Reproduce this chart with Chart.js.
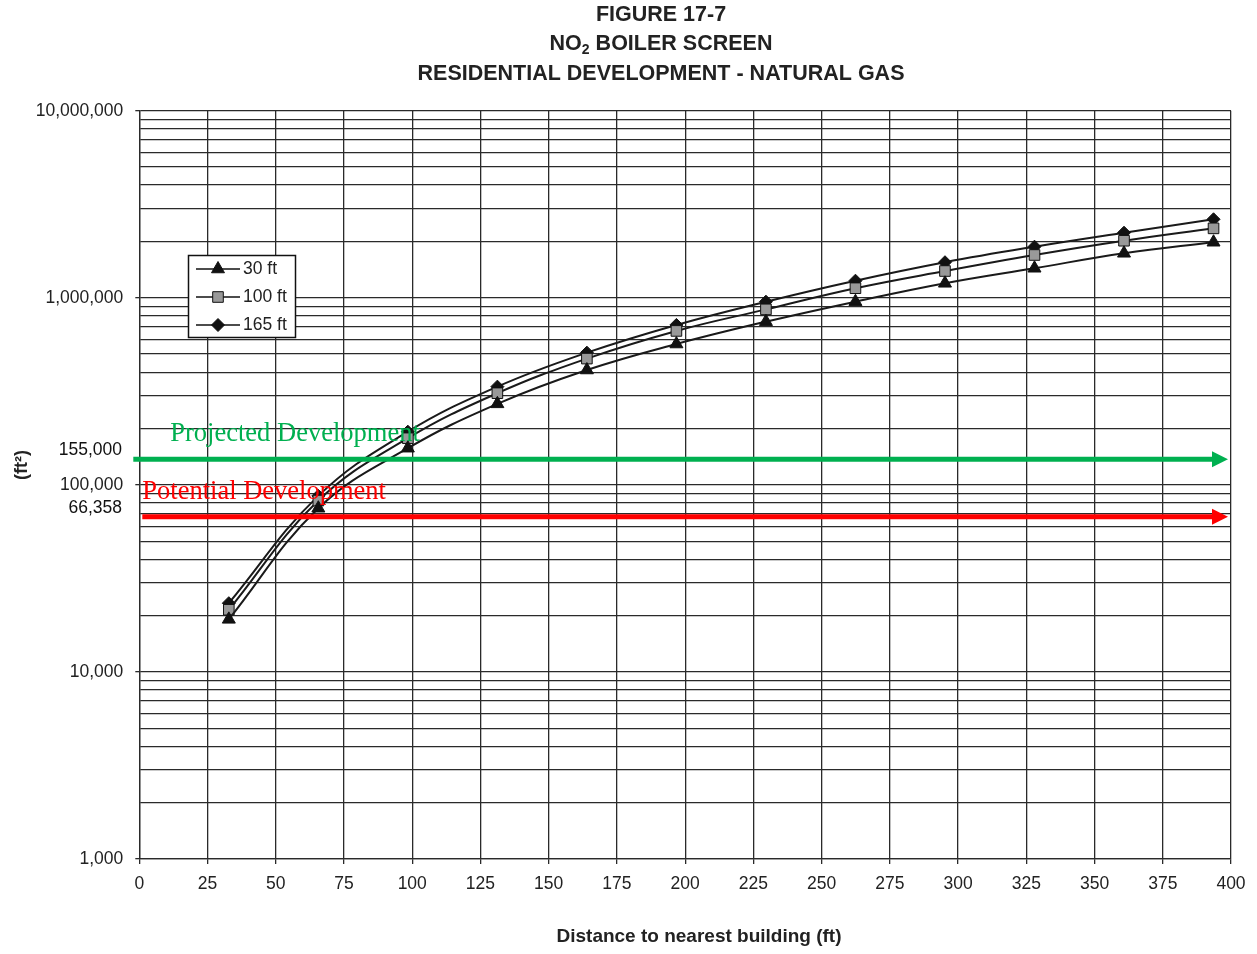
<!DOCTYPE html>
<html>
<head>
<meta charset="utf-8">
<script src="https://cdn.jsdelivr.net/npm/chart.js@4.4.0/dist/chart.umd.min.js"></script>
<style>
  body { margin: 0; background: #fff; }
  #wrap { width: 1257px; height: 954px; }
</style>
</head>
<body>
<div id="wrap"><canvas id="chart" width="1257" height="954"></canvas></div>
<script>
// distance to nearest building (ft)
const xDistance = [32.8, 65.6, 98.4, 131.2, 164, 196.8, 229.6, 262.4, 295.2, 328, 360.8, 393.6];
// floor area (ft2) per stack height
const area30 = [19100, 75000, 157000, 271000, 411000, 566000, 745000, 953000, 1195000, 1438000, 1729000, 1981000];
const area100 = [21500, 82400, 177500, 309000, 473000, 665000, 867000, 1125000, 1390000, 1693000, 2018000, 2350000];
const area165 = [23300, 87300, 192400, 335000, 509000, 716000, 953000, 1234000, 1549000, 1876000, 2228000, 2628000];
const seriesNames = ['30 ft', '100 ft', '165 ft'];

const yMajorTicks = [1000, 10000, 100000, 1000000, 10000000];
const xTickStep = 25;

// development reference levels (as drawn) and their labels
const refLevels = [137000, 67500];
const refNames = ['Projected Development', 'Potential Development'];
const refValueLabels = ['155,000', '66,358'];
const refColors = ['#00b050', '#ff0000'];

const FONT = "'Liberation Sans', Arial, sans-serif";
const INK = '#222';

// log grid: 1..9 in each decade
const yGrid = [];
for (let d = 0; d < yMajorTicks.length - 1; d++) {
    for (let m = 1; m < 10; m++) yGrid.push(yMajorTicks[d] * m);
}
yGrid.push(yMajorTicks[yMajorTicks.length - 1]);

function toPoints(values) {
    return values.map((v, i) => ({ x: xDistance[i], y: v }));
}

const titlePlugin = {
    id: 'titles',
    beforeDraw(chart) {
        const ctx = chart.ctx;
        ctx.save();
        ctx.fillStyle = '#fff';
        ctx.fillRect(0, 0, chart.width, chart.height);
        ctx.fillStyle = INK;
        ctx.textAlign = 'center';
        ctx.textBaseline = 'middle';
        ctx.font = 'bold 21.5px ' + FONT;
        ctx.fillText('FIGURE 17-7', 661, 15);
        // NO2 with subscript
        const a = 'NO', b = '2', c = ' BOILER SCREEN';
        const wa = ctx.measureText(a).width;
        const wc = ctx.measureText(c).width;
        ctx.font = 'bold 14px ' + FONT;
        const wb = ctx.measureText(b).width;
        let x = 661 - (wa + wb + wc) / 2;
        ctx.textAlign = 'left';
        ctx.font = 'bold 21.5px ' + FONT;
        ctx.fillText(a, x, 44);
        ctx.font = 'bold 14px ' + FONT;
        ctx.fillText(b, x + wa, 50);
        ctx.font = 'bold 21.5px ' + FONT;
        ctx.fillText(c, x + wa + wb, 44);
        ctx.textAlign = 'center';
        ctx.fillText('RESIDENTIAL DEVELOPMENT - NATURAL GAS', 661, 74);

        ctx.font = 'bold 19px ' + FONT;
        ctx.fillText('Distance to nearest building (ft)', 699, 937);

        ctx.translate(22, 465);
        ctx.rotate(-Math.PI / 2);
        ctx.font = 'bold 18px ' + FONT;
        ctx.fillText('(ft\u00B2)', 0, 0);
        ctx.restore();
    }
};

const refPlugin = {
    id: 'refLines',
    afterDatasetsDraw(chart) {
        const ctx = chart.ctx;
        const area = chart.chartArea;
        const yScale = chart.scales.y;
        const starts = [area.left - 6, area.left + 3];
        const textX = [area.left + 31, area.left + 3];
        ctx.save();
        refLevels.forEach((lvl, i) => {
            const y = yScale.getPixelForValue(lvl);
            const tip = area.right - 3;
            ctx.strokeStyle = refColors[i];
            ctx.fillStyle = refColors[i];
            ctx.lineWidth = 5;
            ctx.beginPath();
            ctx.moveTo(starts[i], y);
            ctx.lineTo(tip - 14, y);
            ctx.stroke();
            ctx.beginPath();
            ctx.moveTo(tip, y);
            ctx.lineTo(tip - 16, y - 8);
            ctx.lineTo(tip - 16, y + 8);
            ctx.closePath();
            ctx.fill();

            ctx.font = "26.5px 'Liberation Serif', 'Times New Roman', serif";
            ctx.textAlign = 'left';
            ctx.textBaseline = 'middle';
            ctx.fillText(refNames[i], textX[i], y - 25);

            ctx.fillStyle = '#111';
            ctx.font = '17.5px ' + FONT;
            ctx.textAlign = 'right';
            ctx.fillText(refValueLabels[i], 122, y - 9);
        });
        ctx.restore();
    }
};

const legendPlugin = {
    id: 'boxLegend',
    afterDraw(chart) {
        const ctx = chart.ctx;
        const bx = 188.5, by = 255.5, bw = 107, bh = 82;
        const rows = [269, 297, 325];
        ctx.save();
        ctx.fillStyle = '#fff';
        ctx.fillRect(bx, by, bw, bh);
        ctx.strokeStyle = '#111';
        ctx.lineWidth = 1.5;
        ctx.strokeRect(bx, by, bw, bh);
        chart.data.datasets.forEach((ds, i) => {
            const y = rows[i];
            ctx.strokeStyle = '#111';
            ctx.lineWidth = 1.5;
            ctx.beginPath();
            ctx.moveTo(196, y);
            ctx.lineTo(240, y);
            ctx.stroke();
            ctx.fillStyle = ds.pointBackgroundColor;
            ctx.strokeStyle = ds.pointBorderColor;
            ctx.lineWidth = 1;
            Chart.helpers.drawPoint(ctx, {
                pointStyle: ds.pointStyle,
                radius: ds.pointRadius,
                rotation: 0,
                borderWidth: 1
            }, 218, y);
            ctx.fillStyle = INK;
            ctx.font = '17.5px ' + FONT;
            ctx.textAlign = 'left';
            ctx.textBaseline = 'middle';
            ctx.fillText(ds.label, 243, y);
        });
        ctx.restore();
    }
};

new Chart(document.getElementById('chart'), {
    type: 'line',
    data: {
        datasets: [
            {
                label: seriesNames[0],
                data: toPoints(area30),
                borderColor: '#1a1a1a',
                borderWidth: 2,
                pointStyle: 'triangle',
                pointRadius: 7.5,
                pointBackgroundColor: '#111',
                pointBorderColor: '#111',
                pointBorderWidth: 1,
                tension: 0.4
            },
            {
                label: seriesNames[1],
                data: toPoints(area100),
                borderColor: '#1a1a1a',
                borderWidth: 2,
                pointStyle: 'rect',
                pointRadius: 7.5,
                pointBackgroundColor: '#999',
                pointBorderColor: '#111',
                pointBorderWidth: 1,
                tension: 0.4
            },
            {
                label: seriesNames[2],
                data: toPoints(area165),
                borderColor: '#1a1a1a',
                borderWidth: 2,
                pointStyle: 'rectRot',
                pointRadius: 6.5,
                pointBackgroundColor: '#111',
                pointBorderColor: '#111',
                pointBorderWidth: 1,
                tension: 0.4
            }
        ]
    },
    options: {
        responsive: false,
        animation: false,
        layout: { padding: { top: 110.7, right: 26, bottom: 0, left: 0 } },
        plugins: {
            legend: { display: false },
            tooltip: { enabled: false }
        },
        scales: {
            x: {
                type: 'linear',
                min: 0,
                max: 400,
                afterFit(scale) { scale.height = 95; },
                ticks: {
                    stepSize: xTickStep,
                    color: INK,
                    font: { family: FONT, size: 17.5 },
                    padding: 10,
                    maxRotation: 0,
                    autoSkip: false
                },
                grid: { color: '#2a2a2a', lineWidth: 1.3, tickLength: 5, tickColor: '#2a2a2a' },
                border: { color: '#2a2a2a', width: 1.3 }
            },
            y: {
                type: 'logarithmic',
                min: yMajorTicks[0],
                max: yMajorTicks[yMajorTicks.length - 1],
                afterFit(scale) { scale.width = 139.3; },
                afterBuildTicks(scale) {
                    scale.ticks = yGrid.map(v => ({ value: v }));
                },
                ticks: {
                    color: INK,
                    font: { family: FONT, size: 17.5 },
                    padding: 12,
                    autoSkip: false,
                    callback(value) {
                        return yMajorTicks.includes(value) ? value.toLocaleString('en-US') : '';
                    }
                },
                grid: {
                    color: '#2a2a2a',
                    lineWidth: 1.3,
                    tickLength: 4,
                    tickColor(ctx) {
                        return ctx.tick && yMajorTicks.includes(ctx.tick.value) ? '#2a2a2a' : 'rgba(0,0,0,0)';
                    }
                },
                border: { color: '#2a2a2a', width: 1.3 }
            }
        }
    },
    plugins: [titlePlugin, refPlugin, legendPlugin]
});
</script>
</body>
</html>
